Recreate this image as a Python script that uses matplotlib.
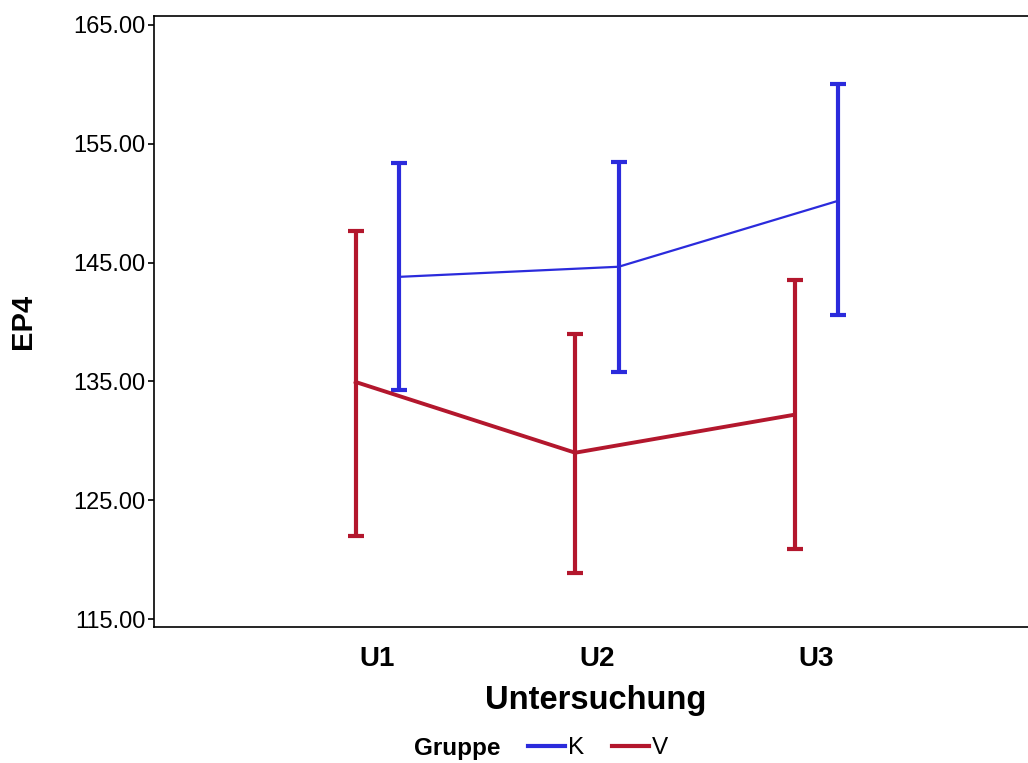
import matplotlib.pyplot as plt
import numpy as np

# Mittelwerte und Fehlerbalken
untersuchung = ["U1", "U2", "U3"]
k_mean = [143.8, 144.65, 150.2]
k_low = [134.3, 135.8, 140.6]
k_high = [153.35, 153.45, 160.0]
v_mean = [134.95, 129.0, 132.2]
v_low = [122.0, 118.9, 120.9]
v_high = [147.7, 139.0, 143.55]

blue = "#2b2bdc"
red = "#b3172d"

plt.rcParams['font.family'] = ['Liberation Sans', 'DejaVu Sans']

fig = plt.figure(figsize=(10.28, 7.63), dpi=100)
ax = fig.add_axes([0.1498, 0.1782, 0.8502, 0.8008])

x = np.arange(len(untersuchung))
dodge = 0.099

k_mean = np.array(k_mean)
v_mean = np.array(v_mean)
k_err = [k_mean - np.array(k_low), np.array(k_high) - k_mean]
v_err = [v_mean - np.array(v_low), np.array(v_high) - v_mean]

ax.errorbar(x + dodge, k_mean, yerr=k_err, color=blue, lw=1.6, elinewidth=3,
            capsize=6, capthick=3, label="K")
ax.errorbar(x - dodge, v_mean, yerr=v_err, color=red, lw=2.8, elinewidth=3,
            capsize=6, capthick=3, label="V")

ax.set_xlim(-1.018, 2.964)
ax.set_ylim(114.33, 165.75)
ax.set_yticks([115, 125, 135, 145, 155, 165])
ax.set_yticklabels(["%.2f" % v for v in [115, 125, 135, 145, 155, 165]], fontsize=17)
ax.set_xticks(x)
ax.set_xticklabels(untersuchung, fontsize=20, fontweight="bold")
ax.tick_params(axis="x", length=0, pad=14)
ax.tick_params(axis="y", length=4, width=1.2, pad=2)

ax.spines["right"].set_visible(False)
for s in ["left", "top", "bottom"]:
    ax.spines[s].set_linewidth(1.2)

ax.set_xlabel("Untersuchung", fontsize=23.5, fontweight="bold")
ax.xaxis.set_label_coords((596 - 154) / 874, -0.095)
ax.set_ylabel("EP4", fontsize=21, fontweight="bold", labelpad=26)

fig.text(414 / 1028, 1 - 748 / 763, "Gruppe", fontsize=17.5, fontweight="bold",
         ha="left", va="center")
line_k = plt.Line2D([], [], color=blue, lw=3)
line_v = plt.Line2D([], [], color=red, lw=3)
fig.legend([line_k, line_v], ["K", "V"], loc="center left",
           bbox_to_anchor=(528 / 1028, 1 - 748 / 763), borderpad=0, borderaxespad=0,
           ncol=2, frameon=False, fontsize=17.5, handlelength=1.52, handletextpad=0.12,
           columnspacing=1.15)

fig.savefig("out.png", dpi=100)
